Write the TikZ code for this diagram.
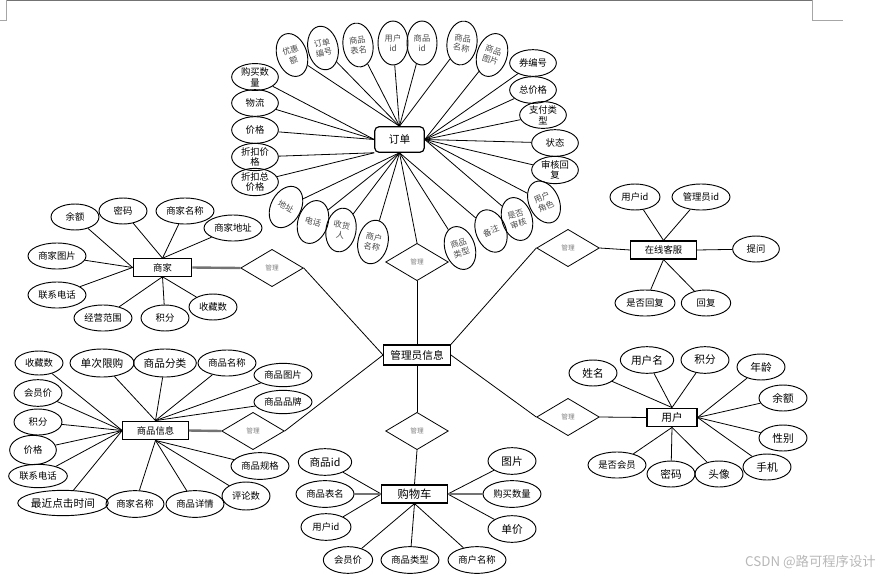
\documentclass[tikz,border=0pt]{standalone}
\usepackage{fontspec}
\setmainfont{Noto Sans CJK SC}
\usetikzlibrary{shapes.geometric}
\begin{document}
\begin{tikzpicture}[x=0.75pt,y=-0.75pt,
  ln/.style={line width=0.6pt},
  tk/.style={line width=1.8pt, draw=black!55},
  ent/.style={draw, line width=0.9pt, inner sep=0pt, font=\fontsize{7.5}{8}\selectfont},
  attr/.style={ellipse, draw, line width=0.7pt, inner sep=0pt, minimum width=36pt, minimum height=19.5pt, align=center, font=\fontsize{7}{8}\selectfont},
  wide/.style={minimum width=43.5pt},
  big/.style={font=\fontsize{8}{9}\selectfont},
  rattr/.style={ellipse, draw, line width=0.7pt, inner sep=0pt, minimum width=22.5pt, minimum height=33pt, align=center, text=black!70, font=\fontsize{6.2}{7.5}\selectfont},
  rel/.style={diamond, draw, line width=0.6pt, inner sep=0pt, minimum width=47pt, minimum height=28pt, text=black!50, font=\fontsize{5}{5}\selectfont},
]
\useasboundingbox (0,0) rectangle (885,579);
\fill[white] (0,0) rectangle (885,579);
% page corner marks
\draw[black!55, line width=0.8pt] (6,0.5) -- (812,0.5);
\draw[black!35, line width=0.6pt] (6,0) -- (6,20) -- (0,20);
\draw[black!35, line width=0.6pt] (812,0) -- (812,20) -- (843,20);

% ---------------- admin ----------------
\node[ent, minimum width=50pt, minimum height=15pt, font=\fontsize{8}{9}\selectfont] (admin) at (417,355) {管理员信息};

% ---------------- order ----------------
\node[ent, rounded corners=3pt, minimum width=37pt, minimum height=19pt, font=\fontsize{8}{9}\selectfont] (order) at (399.5,139.5) {订单};
\node[rattr, rotate=18] (r1) at (292,55) {优惠\\额};
\node[rattr, rotate=12] (r2) at (323,48) {订单\\编号};
\node[rattr, rotate=8] (r3) at (358,45) {商品\\表名};
\node[rattr] (r4) at (393,43) {用户\\id};
\node[rattr] (r5) at (422,43) {商品\\id};
\node[rattr, rotate=-8] (r6) at (462,43) {商品\\名称};
\node[rattr, rotate=-18] (r7) at (492,55) {商品\\图片};
\node[attr, minimum width=35pt, minimum height=20pt] (l1) at (255,77) {购买数\\量};
\node[attr, minimum width=35pt, minimum height=20pt] (l2) at (255,103) {物流};
\node[attr, minimum width=35pt, minimum height=20pt] (l3) at (255,130) {价格};
\node[attr, minimum width=35pt, minimum height=20pt] (l4) at (255,157) {折扣价\\格};
\node[attr, minimum width=35pt, minimum height=20pt] (l5) at (255,182) {折扣总\\价格};
\node[attr, minimum width=35pt, minimum height=20pt] (q1) at (533,63) {券编号};
\node[attr, minimum width=35pt, minimum height=20pt] (q2) at (533,90) {总价格};
\node[attr, minimum width=35pt, minimum height=20pt] (q3) at (543,115) {支付类\\型};
\node[attr, minimum width=35pt, minimum height=20pt] (q4) at (555,143) {状态};
\node[attr, minimum width=35pt, minimum height=20pt] (q5) at (555,170) {审核回\\复};
\node[rattr, rotate=-28] (b1) at (286,207) {地址};
\node[rattr, rotate=-18] (b2) at (313,222) {电话};
\node[rattr, rotate=-10] (b3) at (341,230) {收货\\人};
\node[rattr, rotate=-12] (b4) at (373,242) {商户\\名称};
\node[rattr, rotate=18] (b5) at (460,248) {商品\\类型};
\node[rattr, rotate=22] (b6) at (491,231) {备注};
\node[rattr, rotate=18] (b7) at (517,219) {是否\\审核};
\node[rattr, rotate=25] (b8) at (544,202) {用户\\角色};
\foreach \n in {r1,r2,r3,r4,r5,r6} \draw[ln] (\n) -- (order.north);
\foreach \n in {r7,q1,q2,q3,q4,q5,b7,b8} \draw[ln] (\n) -- (order.east);
\foreach \n in {l1,l2,l3} \draw[ln] (\n) -- (order.west);
\foreach \n in {l4,l5} \draw[ln] (\n) -- (order.south west);
\foreach \n in {b1,b2,b3,b4,b5,b6} \draw[ln] (\n) -- (order.south);
\node[rel] (d1) at (417,262) {管理};
\draw[ln] (d1.north) -- (order.south);
\draw[ln] (d1.south) -- (admin.north);

% ---------------- merchant ----------------
\node[ent, minimum width=44pt, minimum height=13pt, font=\fontsize{7}{8}\selectfont] (mer) at (162.5,267.5) {商家};
\node[attr] (m1) at (75,217) {余额};
\node[attr] (m2) at (123,211) {密码};
\node[attr, wide] (m3) at (185,211) {商家名称};
\node[attr, wide] (m4) at (233,228) {商家地址};
\node[attr, wide] (m5) at (57,256) {商家图片};
\node[attr, wide] (m6) at (57,295) {联系电话};
\node[attr, wide] (m7) at (103,318) {经营范围};
\node[attr] (m8) at (165,318) {积分};
\node[attr] (m9) at (213,307) {收藏数};
\foreach \n in {m1,m5,m6} \draw[ln] (\n) -- (mer.west);
\foreach \n in {m2,m3,m4} \draw[ln] (\n) -- (mer.north);
\foreach \n in {m7,m8,m9} \draw[ln] (\n) -- (mer.south);
\node[rel] (d2) at (272,268) {管理};
\draw[tk] (mer.east) -- (d2.west);
\draw[ln] (d2.east) -- (admin.west);

% ---------------- online service ----------------
\node[ent, minimum width=49pt, minimum height=13.5pt, font=\fontsize{7}{8}\selectfont] (cs) at (663.5,250) {在线客服};
\node[attr, minimum width=37.5pt] (c1) at (635,197) {用户id};
\node[attr, wide] (c2) at (701,197) {管理员id};
\node[attr, minimum width=35pt] (c3) at (756,249) {提问};
\node[attr, minimum width=45pt] (c4) at (645,303) {是否回复};
\node[attr, minimum width=37pt] (c5) at (706,303) {回复};
\foreach \n in {c1,c2} \draw[ln] (\n) -- (cs.north);
\draw[ln] (c3) -- (cs.east);
\foreach \n in {c4,c5} \draw[ln] (\n) -- (cs.south);
\node[rel] (d3) at (568,248) {管理};
\draw[ln] (cs.west) -- (d3.east);
\draw[ln] (d3.west) -- (admin.north east);

% ---------------- user ----------------
\node[ent, minimum width=37.5pt, minimum height=14pt, font=\fontsize{8}{9}\selectfont] (user) at (672,417.5) {用户};
\node[attr, big] (u1) at (593,373) {姓名};
\node[attr, big, minimum width=40pt, minimum height=20pt] (u2) at (647,360) {用户名};
\node[attr, big, minimum height=20pt] (u3) at (705,360) {积分};
\node[attr, big] (u4) at (761,367) {年龄};
\node[attr, big] (u5) at (783,398) {余额};
\node[attr, big] (u6) at (783,438) {性别};
\node[attr, big] (u7) at (767,467) {手机};
\node[attr, big] (u8) at (719,474) {头像};
\node[attr, big] (u9) at (671,474) {密码};
\node[attr, wide] (u10) at (617,465) {是否会员};
\foreach \n in {u1,u2,u3} \draw[ln] (\n) -- (user.north);
\foreach \n in {u4,u5,u6,u7} \draw[ln] (\n) -- (user.east);
\foreach \n in {u8,u9,u10} \draw[ln] (\n) -- (user.south);
\node[rel] (d4) at (568,417) {管理};
\draw[ln] (user.west) -- (d4.east);
\draw[ln] (d4.west) -- (admin.east);

% ---------------- product info ----------------
\node[ent, minimum width=49pt, minimum height=14pt, font=\fontsize{7}{8}\selectfont] (pi) at (155.5,430.5) {商品信息};
\node[attr, minimum height=18pt] (p1) at (39,363) {收藏数};
\node[attr, big, minimum width=48pt, minimum height=21pt] (p2) at (102,363) {单次限购};
\node[attr, big, minimum width=47pt, minimum height=21pt] (p3) at (165,363) {商品分类};
\node[attr, wide] (p4) at (227,363) {商品名称};
\node[attr, wide, minimum height=17.5pt] (p5) at (283,375) {商品图片};
\node[attr, wide, minimum height=17.5pt] (p6) at (283,402) {商品品牌};
\node[attr, wide, minimum height=20pt] (p7) at (260,466) {商品规格};
\node[attr, minimum height=21pt] (p8) at (246,496) {评论数};
\node[attr, wide, minimum height=20pt] (p9) at (195,504) {商品详情};
\node[attr, wide, minimum height=20pt] (p10) at (135,504) {商家名称};
\node[attr, big, minimum width=63pt, minimum height=19pt] (p11) at (63,503) {最近点击时间};
\node[attr, minimum width=44pt, minimum height=17.5pt] (p12) at (38,476) {联系电话};
\node[attr, minimum width=35pt, minimum height=22pt] (p13) at (33,450) {价格};
\node[attr] (p14) at (38,422) {积分};
\node[attr, minimum height=20pt] (p15) at (38,393) {会员价};
\foreach \n in {p1,p15,p14,p13,p12,p11} \draw[ln] (\n) -- (pi.west);
\foreach \n in {p2,p3,p4,p5,p6} \draw[ln] (\n) -- (pi.north);
\foreach \n in {p7,p8,p9,p10} \draw[ln] (\n) -- (pi.south);
\node[rel] (d5) at (253,431) {管理};
\draw[tk] (pi.east) -- (d5.west);
\draw[ln] (d5.east) -- (admin.west);

% ---------------- cart ----------------
\node[ent, minimum width=49pt, minimum height=13.5pt, font=\fontsize{8.5}{9}\selectfont] (cart) at (414.5,494) {购物车};
\node[attr, big, minimum width=40pt, minimum height=20pt] (k1) at (325,462) {商品id};
\node[attr, wide, minimum height=20pt] (k2) at (325,494) {商品表名};
\node[attr, minimum width=37.5pt, minimum height=20pt] (k3) at (326,527) {用户id};
\node[attr, minimum width=37pt, minimum height=20pt] (k4) at (348,560) {会员价};
\node[attr, wide, minimum height=20pt] (k5) at (410,560) {商品类型};
\node[attr, wide, minimum height=20pt] (k6) at (477,560) {商户名称};
\node[attr, big, minimum height=20pt] (k7) at (512,461) {图片};
\node[attr, wide, minimum height=20pt] (k8) at (512,494) {购买数量};
\node[attr, big, minimum height=20pt] (k9) at (512,529) {单价};
\foreach \n in {k1,k3} \draw[ln] (\n) -- (cart.west);
\draw[tk] (k2) -- (cart.west);
\foreach \n in {k7,k9} \draw[ln] (\n) -- (cart.east);
\draw[tk] (k8) -- (cart.east);
\foreach \n in {k4,k5,k6} \draw[ln] (\n) -- (cart.south);
\node[rel] (d6) at (417,431) {管理};
\draw[ln] (admin.south) -- (d6.north);
\draw[ln] (d6.south) -- (cart.north);

% watermark
\node[anchor=east, text=black!28, inner sep=0pt, font=\fontsize{10}{10}\selectfont] (wm) at (876,562) {CSDN @路可程序设计};
\end{tikzpicture}
\end{document}
